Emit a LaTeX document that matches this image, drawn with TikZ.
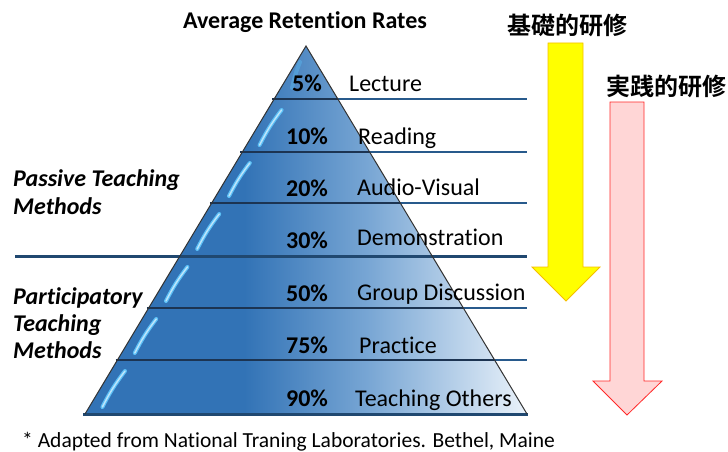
\documentclass[tikz,border=0pt]{standalone}
\usepackage{fontspec}
\usepackage{tikz}
\setmainfont{Carlito}[Ligatures=NoCommon]
\newfontfamily\jpfont{Noto Sans CJK JP}[BoldFont={Noto Sans CJK JP Bold}]
\definecolor{pyrblue}{RGB}{50,115,182}
\definecolor{pyrmid}{RGB}{120,166,212}
\definecolor{pyrlight}{RGB}{234,242,250}
\definecolor{sepnavy}{RGB}{28,52,82}
\definecolor{ruleblue}{RGB}{40,90,140}
\definecolor{glosscyan}{RGB}{90,190,245}
\definecolor{basicyel}{RGB}{255,255,0}
\definecolor{basicedge}{RGB}{245,190,0}
\definecolor{practpink}{RGB}{255,214,214}
\definecolor{practedge}{RGB}{255,40,40}
\pgfdeclarehorizontalshading{layerfill}{100bp}{color(0bp)=(pyrblue); color(25bp)=(pyrblue); color(43bp)=(pyrblue); color(57bp)=(pyrmid); color(75bp)=(pyrlight); color(100bp)=(pyrlight)}

\begin{document}
\begin{tikzpicture}[x=1pt, y=-1pt,
  title/.style={font=\fontsize{24}{28}\selectfont\bfseries, anchor=base, inner sep=0pt},
  pct/.style={font=\fontsize{24}{28}\selectfont\bfseries, anchor=base, inner sep=0pt},
  lbl/.style={font=\fontsize{24}{28}\selectfont, anchor=base west, inner sep=0pt},
  grp/.style={font=\fontsize{24}{28}\selectfont\bfseries\itshape, anchor=base west, inner sep=0pt},
  note/.style={font=\fontsize{21.5}{25}\selectfont, anchor=base west, inner sep=0pt},
  jp/.style={font=\jpfont\bfseries\fontsize{24}{28}\selectfont, anchor=center, inner sep=0pt},
  sep/.style={draw=sepnavy, line width=2pt},
  rule/.style={draw=ruleblue, line width=1.2pt},
  bigrule/.style={draw=ruleblue!80!black, line width=3pt},
  edge/.style={draw=black!80, line width=1pt},
  gloss/.style={draw=glosscyan, line width=4pt, line cap=round},
  shine/.style={draw=white!60!glosscyan, line width=1.5pt, line cap=round},
  basicarrow/.style={fill=basicyel, draw=basicedge, line width=0.8pt},
  practarrow/.style={fill=practpink, draw=practedge, line width=0.8pt}
]
\useasboundingbox (0,0) rectangle (728,452);

% pyramid body
\coordinate (apex) at (306,46);
\coordinate (bl) at (85,414);
\coordinate (br) at (527,414);
\shade[shading=layerfill] (apex) -- (br) -- (bl) -- cycle;

% glossy strokes near the left edge of each layer
\foreach \t/\b in {99/152, 152/203, 203/256, 256/308, 308/360, 360/414}{
  \pgfmathsetmacro{\xa}{306-0.6*(\b-7-46)+13}
  \pgfmathsetmacro{\xb}{306-0.6*(\t+11-46)+14}
  \draw[gloss] (\xa,\b-7) to[bend left=5] (\xb,\t+11);
  \draw[shine] (\xa,\b-7) to[bend left=5] (\xb,\t+11);
}
\draw[gloss, draw opacity=0.4] (292,88) to[bend left=5] (300,62);

% layer separators and the rules running right
\foreach \y in {99, 152, 203, 308, 360}{
  \pgfmathsetmacro{\xl}{306-0.6*(\y-46)}
  \pgfmathsetmacro{\xr}{306+0.6*(\y-46)}
  \draw[sep] (\xl-2,\y) -- (\xr,\y);
  \draw[rule] (\xr,\y) -- (527,\y);
}
\draw[bigrule] (15,256) -- (527,256);
\draw[bigrule] (83,414) -- (528,414);
\draw[edge] (bl) -- (apex) -- (br);

% texts
\node[title] (head) at (305,28.5) {Average Retention Rates};

\node[pct] (p5) at (307,91) {5\%};
\node[pct] (p10) at (307,144) {10\%};
\node[pct] (p20) at (307,196) {20\%};
\node[pct] (p30) at (307,248) {30\%};
\node[pct] (p50) at (307,301) {50\%};
\node[pct] (p75) at (307,353) {75\%};
\node[pct] (p90) at (307,406) {90\%};

\node[lbl] (lecture) at (349,91) {Lecture};
\node[lbl] (reading) at (358,144) {Reading};
\node[lbl] (av) at (357,195) {Audio-Visual};
\node[lbl] (demo) at (357,245) {Demonstration};
\node[lbl] (group) at (357,300) {Group Discussion};
\node[lbl] (practice) at (359,353) {Practice};
\node[lbl] (others) at (355,406) {Teaching Others};

\node[grp] (passive1) at (13,186) {Passive Teaching};
\node[grp] (passive2) at (13,214) {Methods};
\node[grp] (partic1) at (13,304) {Participatory};
\node[grp] (partic2) at (13,331) {Teaching};
\node[grp] (partic3) at (13,358) {Methods};

\node[note] (source) at (22,447) {* Adapted from National Traning Laboratories. Bethel, Maine};

% training arrows
\node[jp] (basic) at (567,25) {基礎的研修};
\node[jp] (practical) at (666,86) {実践的研修};
\draw[basicarrow] (548,43) -- (583,43) -- (583,267) -- (600,267) -- (566,301) -- (532,267) -- (548,267) -- cycle;
\draw[practarrow] (610,102) -- (644,102) -- (644,381) -- (662,381) -- (627,415) -- (593,381) -- (610,381) -- cycle;
\end{tikzpicture}
\end{document}
